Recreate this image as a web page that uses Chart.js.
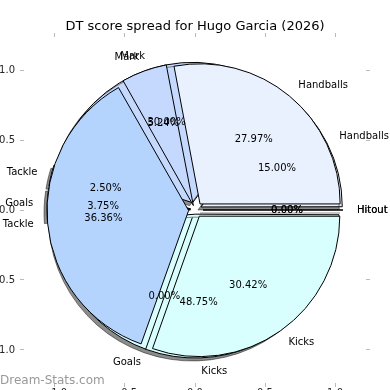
<!DOCTYPE html>
<html>
<head>
<meta charset="utf-8">
<script src="https://cdn.jsdelivr.net/npm/chart.js@4.4.1/dist/chart.umd.min.js"></script>
<style>
  html, body { margin: 0; padding: 0; width: 390px; height: 390px; overflow: hidden; background: #fff; }
  .layer { position: absolute; left: -20px; top: 0; width: 410px; height: 420px; }
  #mark { position: absolute; left: 0; top: 373px; font: 12px "DejaVu Sans"; line-height: 14px; color: #999; }
</style>
</head>
<body>
<div class="layer"><canvas id="under" width="410" height="420"></canvas></div>
<div class="layer"><canvas id="over" width="410" height="420"></canvas></div>
<div id="mark">Dream-Stats.com</div>
<script>
const categories = ["Handballs", "Mark", "Tackle", "Goals", "Kicks", "Hitout"];
// DT points per stat, two overlapping pies
const pointsUnder = [12, 24, 2, 3, 39, 0];
const pointsOver = [80, 15, 104, 0, 87, 0];
const tickValues = [-1, -0.5, 0, 0.5, 1];
const sliceColors = ["#e9f1fe", "#c5d9fe", "#b4d4fe", "#cfe6fe", "#d8fefe", "#f2f8ff"];

const RADIUS = 140;   // px, one axis unit
const EXPLODE = 8;    // px shift of every slice
const FONT = "DejaVu Sans";

// matplotlib goes counter-clockwise from east, Chart.js clockwise: reverse the order
const order = categories.map((_, i) => categories.length - 1 - i);

function pieData(values) {
  return {
    labels: order.map(i => categories[i]),
    datasets: [{
      data: order.map(i => values[i]),
      backgroundColor: order.map(i => sliceColors[i]),
      borderColor: "#000",
      borderWidth: 1,
      radius: RADIUS,
      rotation: 90,
      offset: ctx => {
        const total = ctx.dataset.data.reduce((a, b) => a + b, 0);
        const circ = ctx.parsed / total * 2 * Math.PI;
        // chart.js adds extra shift for thin slices, undo it
        return 4 * EXPLODE / (2 - Math.sin(Math.min(Math.PI, circ)));
      }
    }]
  };
}

function axis(position, axisId, size, showLabels, lim, pad) {
  return {
    type: "linear",
    position: position,
    axis: axisId,
    min: -lim,
    max: lim,
    afterBuildTicks: s => { s.ticks = tickValues.map(v => ({ value: v })); },
    afterFit: s => { if (axisId === "x") s.height = size; else s.width = size; },
    grid: { drawOnChartArea: false, drawTicks: true, tickLength: 4, color: "#bbbbbb" },
    border: { display: false },
    ticks: {
      display: showLabels,
      padding: pad,
      maxRotation: 0,
      autoSkip: false,
      color: "#262626",
      font: { family: FONT, size: 10 },
      callback: v => v.toFixed(1).replace("-", "\u2212")
    }
  };
}

const zeroSlices = {
  id: "zeroSlices",
  afterDatasetsDraw(chart) {
    const c = chart.ctx;
    chart.getDatasetMeta(0).data.forEach(arc => {
      if (arc.circumference > 0) return;
      const cos = Math.cos(arc.startAngle), sin = Math.sin(arc.startAngle);
      c.beginPath();
      c.moveTo(arc.x + EXPLODE * cos, arc.y + EXPLODE * sin);
      c.lineTo(arc.x + (EXPLODE + arc.outerRadius) * cos, arc.y + (EXPLODE + arc.outerRadius) * sin);
      c.strokeStyle = "#000";
      c.lineWidth = 1;
      c.stroke();
    });
  }
};

const shadow = {
  id: "shadow",
  beforeDatasetsDraw(chart) {
    const c = chart.ctx;
    c.save();
    c.shadowColor = "rgba(0,0,0,0.45)";
    c.shadowOffsetX = -3;
    c.shadowOffsetY = 3;
  },
  afterDatasetsDraw(chart) { chart.ctx.restore(); }
};

const under = new Chart(document.getElementById("under"), {
  type: "pie",
  data: pieData(pointsUnder),
  options: {
    responsive: false,
    animation: false,
    layout: { padding: 0 },
    scales: {
      x: axis("bottom", "x", 37, true, 1.221, 0),
      x2: axis("top", "x", 4, false, 1.221, 0),
      y: axis("left", "y", 44, true, 1.236, 5),
      y2: axis("right", "y", 24, false, 1.236, 0)
    },
    plugins: {
      legend: { display: false },
      tooltip: { enabled: false },
      title: {
        display: true,
        fullSize: false,
        text: "DT score spread for Hugo Garcia (2026)",
        color: "#000",
        font: { family: FONT, size: 13, weight: "normal", lineHeight: 1 },
        padding: { top: 20, bottom: 0 }
      }
    }
  },
  plugins: [zeroSlices, shadow]
});

const sliceText = {
  id: "sliceText",
  afterDraw(chart) {
    const c = chart.ctx;
    c.save();
    c.font = "10px \"" + FONT + "\"";
    c.fillStyle = "#000";
    c.textBaseline = "middle";
    [under, chart].forEach(ch => {
      const vals = ch.data.datasets[0].data;
      const total = vals.reduce((a, b) => a + b, 0);
      ch.getDatasetMeta(0).data.forEach((arc, i) => {
        const mid = (arc.startAngle + arc.endAngle) / 2;
        const cos = Math.cos(mid), sin = Math.sin(mid);
        const lr = 1.1 * arc.outerRadius + EXPLODE;
        c.textAlign = cos > 1e-9 ? "left" : "right";
        c.fillText(ch.data.labels[i], arc.x + lr * cos, arc.y + lr * sin);
        const pr = 0.6 * arc.outerRadius + EXPLODE;
        c.textAlign = "center";
        c.fillText((vals[i] / total * 100).toFixed(2) + "%", arc.x + pr * cos, arc.y + pr * sin);
      });
    });
    c.restore();
  }
};

new Chart(document.getElementById("over"), {
  type: "pie",
  data: pieData(pointsOver),
  options: {
    responsive: false,
    animation: false,
    layout: { padding: { left: 44, right: 24, top: 37, bottom: 37 } },
    plugins: { legend: { display: false }, tooltip: { enabled: false } }
  },
  plugins: [zeroSlices, sliceText]
});
</script>
</body>
</html>
